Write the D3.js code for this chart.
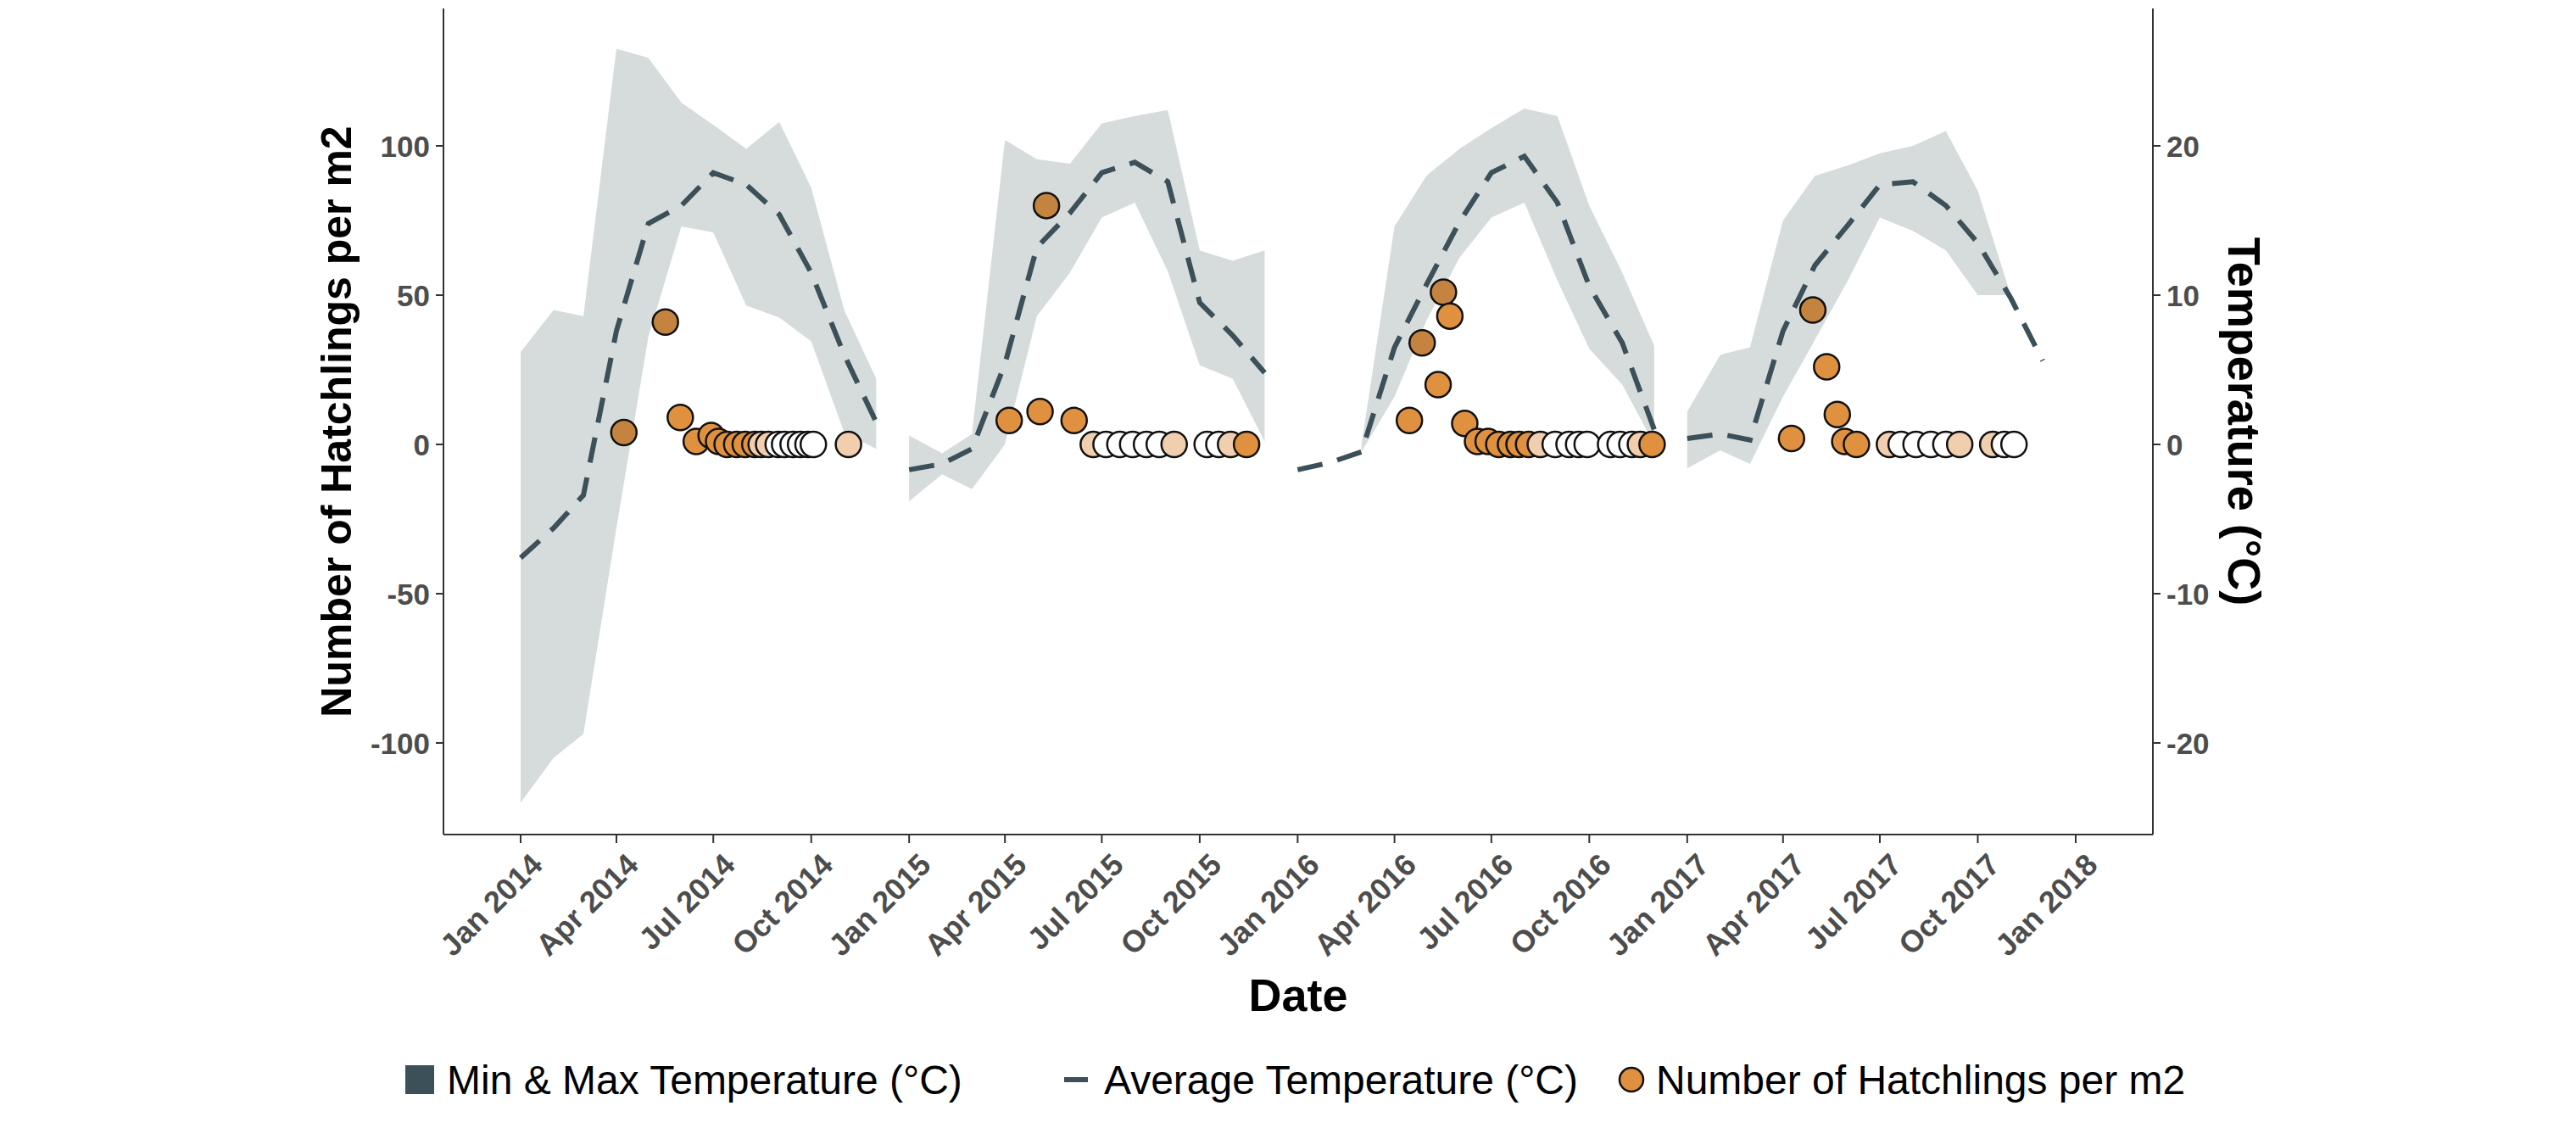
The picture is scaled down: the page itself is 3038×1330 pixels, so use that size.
<!DOCTYPE html>
<html><head><meta charset="utf-8">
<script src="https://cdn.jsdelivr.net/npm/d3@7"></script>
<style>body{margin:0;background:#fff}text{font-family:"Liberation Sans",Arial,sans-serif}</style>
</head><body><svg id="c" width="3038" height="1330"></svg>
<script>
// Monthly temperature (°C), one array per year segment
const tempMonths2014 = ["2014-01","2014-02","2014-03","2014-04","2014-05","2014-06","2014-07","2014-08","2014-09","2014-10","2014-11","2014-12"];
const tempAvg2014 = [-7.6,-5.6,-3.4,7.6,14.8,16,18.2,17.4,15.4,11.5,6,1.5];
const tempMax2014 = [6.2,9,8.6,26.5,25.9,22.9,21.4,19.8,21.6,17.2,9,4.4];
const tempMin2014 = [-24,-21,-19.4,-5.6,7.2,14.6,14.2,9.3,8.5,6.9,0.8,-0.3];
const tempMonths2015 = ["2015-01","2015-02","2015-03","2015-04","2015-05","2015-06","2015-07","2015-08","2015-09","2015-10","2015-11","2015-12"];
const tempAvg2015 = [-1.7,-1.3,-0.3,5.4,13.2,15.5,18.2,18.9,17.6,9.5,7.3,4.8];
const tempMax2015 = [0.6,-0.6,0.7,20.4,19.1,18.8,21.5,22,22.4,13,12.3,13];
const tempMin2015 = [-3.8,-2,-3,0,8.6,11.5,15.2,16.2,11.6,5.3,4.4,0.2];
const tempMonths2016 = ["2016-01","2016-02","2016-03","2016-04","2016-05","2016-06","2016-07","2016-08","2016-09","2016-10","2016-11","2016-12"];
const tempAvg2016 = [-1.7,-1.2,-0.5,6.5,10.7,14.9,18.2,19.3,16.2,10.6,6.8,1.0];
const tempMax2016 = [null,null,0,14.6,18,19.8,21.2,22.5,22,16,11.5,6.6];
const tempMin2016 = [null,null,-0.5,3.2,8.3,12.5,15.2,16.2,11,6.4,4,0];
const tempMonths2017 = ["2017-01","2017-02","2017-03","2017-04","2017-05","2017-06","2017-07","2017-08","2017-09","2017-10","2017-11","2017-12"];
const tempAvg2017 = [0.4,0.7,0.3,7.6,12,14.7,17.4,17.6,16,13.5,9.8,5.6];
const tempMax2017 = [2.2,6,6.5,15,18,18.7,19.5,20,21,17,10,null];
const tempMin2017 = [-1.6,-0.4,-1.3,3.2,7,11,15.2,14.3,13,10,10,null];

// Hatchlings per m2 (date, value, shade: o=orange, d=darker, m=mixed, w=white)
const hatchDates = ["2014-04-08","2014-05-17","2014-05-31","2014-06-15","2014-06-29","2014-07-06","2014-07-14","2014-07-23","2014-07-31","2014-08-09","2014-08-15","2014-08-22","2014-08-31","2014-09-06","2014-09-14","2014-09-21","2014-09-28","2014-10-03","2014-11-05",
"2015-04-05","2015-05-04","2015-05-10","2015-06-05","2015-06-23","2015-07-05","2015-07-18","2015-07-30","2015-08-12","2015-08-24","2015-09-07","2015-10-08","2015-10-19","2015-10-30","2015-11-14",
"2016-04-15","2016-04-27","2016-05-12","2016-05-17","2016-05-23","2016-06-06","2016-06-18","2016-06-28","2016-07-08","2016-07-19","2016-07-27","2016-08-05","2016-08-16","2016-08-30","2016-09-12","2016-09-21","2016-09-29","2016-10-21","2016-10-30","2016-11-10","2016-11-18","2016-11-29",
"2017-04-09","2017-04-29","2017-05-12","2017-05-22","2017-05-29","2017-06-09","2017-07-10","2017-07-21","2017-08-04","2017-08-18","2017-09-01","2017-09-14","2017-10-15","2017-10-26","2017-11-04"];
const hatchValues = [4,41,9,1,3,1,0,0,0,0,0,0,0,0,0,0,0,0,0,
8,11,80,8,0,0,0,0,0,0,0,0,0,0,0,
8,34,20,51,43,7,1,1,0,0,0,0,0,0,0,0,0,0,0,0,0,0,
2,45,26,10,1,0,0,0,0,0,0,0,0,0,0];
const hatchShade = ["d","d","o","o","o","o","o","o","o","o","m","m","w","w","w","w","w","w","m",
"o","o","d","o","m","w","w","w","w","w","m","w","w","m","o",
"o","d","o","d","o","o","o","o","o","o","o","o","m","w","w","w","w","w","w","w","m","o",
"o","d","o","o","o","o","m","w","w","w","w","m","m","w","w"];

const yTicksLeft = [-100,-50,0,50,100];
const yTicksRight = [-20,-10,0,10,20];
const xTicks = ["2014-01","2014-04","2014-07","2014-10","2015-01","2015-04","2015-07","2015-10","2016-01","2016-04","2016-07","2016-10","2017-01","2017-04","2017-07","2017-10","2018-01"];

const svg = d3.select("#c");
const L=523, R=2539, T=10, B=984;
const pm = d3.timeParse("%Y-%m"), pd = d3.timeParse("%Y-%m-%d");
const x = d3.scaleTime().domain([pm("2014-01"), pm("2018-01")]).range([614, 2448]);
const y = d3.scaleLinear().domain([-100,100]).range([876,172]);
const yT = d3.scaleLinear().domain([-20,20]).range([876,172]);

const segs = [[tempMonths2014,tempAvg2014,tempMax2014,tempMin2014],[tempMonths2015,tempAvg2015,tempMax2015,tempMin2015],
[tempMonths2016,tempAvg2016,tempMax2016,tempMin2016],[tempMonths2017,tempAvg2017,tempMax2017,tempMin2017]];
const area = d3.area().defined(d=>d.hi!=null).x(d=>x(d.t)).y0(d=>yT(d.lo)).y1(d=>yT(d.hi));
const line = d3.line().x(d=>x(d.t)).y(d=>yT(d.a));
segs.forEach(([m,a,hi,lo])=>{
  const data = m.map((s,i)=>({t:pm(s),a:a[i],hi:hi[i],lo:lo[i]}));
  svg.append("path").attr("d",area(data)).attr("fill","#d6dcdc");
});
segs.forEach(([m,a])=>{
  const data = m.map((s,i)=>({t:pm(s),a:a[i]}));
  svg.append("path").attr("d",line(data)).attr("fill","none").attr("stroke","#3b5058").attr("stroke-width",6).attr("stroke-dasharray","30,18");
});
const shadeCol = {o:"#e0913f",d:"#c4843f",m:"#f1cfae",w:"#ffffff"};
svg.append("g").selectAll("circle").data(hatchDates).join("circle")
  .attr("cx",(d)=>x(pd(d))).attr("cy",(d,i)=>y(hatchValues[i])).attr("r",15)
  .attr("fill",(d,i)=>shadeCol[hatchShade[i]]).attr("stroke","#111").attr("stroke-width",2.5);

// axes
const tk = "#333";
svg.append("line").attr("x1",L).attr("x2",L).attr("y1",T).attr("y2",B).attr("stroke",tk).attr("stroke-width",2);
svg.append("line").attr("x1",R).attr("x2",R).attr("y1",T).attr("y2",B).attr("stroke",tk).attr("stroke-width",2);
svg.append("line").attr("x1",L).attr("x2",R).attr("y1",B).attr("y2",B).attr("stroke",tk).attr("stroke-width",2);
yTicksLeft.forEach(v=>{
  svg.append("line").attr("x1",L-9).attr("x2",L).attr("y1",y(v)).attr("y2",y(v)).attr("stroke",tk).attr("stroke-width",2);
  svg.append("text").attr("x",L-16).attr("y",y(v)).attr("dy","0.36em").attr("text-anchor","end")
    .attr("font-weight","bold").attr("font-size",35).attr("fill","#4d4d4d").text(v);
});
yTicksRight.forEach(v=>{
  svg.append("line").attr("x1",R).attr("x2",R+9).attr("y1",yT(v)).attr("y2",yT(v)).attr("stroke",tk).attr("stroke-width",2);
  svg.append("text").attr("x",R+16).attr("y",yT(v)).attr("dy","0.36em").attr("text-anchor","start")
    .attr("font-weight","bold").attr("font-size",35).attr("fill","#4d4d4d").text(v);
});
const fmt = d3.timeFormat("%b %Y");
xTicks.forEach(s=>{
  const px = x(pm(s));
  svg.append("line").attr("x1",px).attr("x2",px).attr("y1",B).attr("y2",B+10).attr("stroke",tk).attr("stroke-width",2);
  svg.append("text").attr("transform",`translate(${px+10},${B+20}) rotate(-45)`).attr("text-anchor","end").attr("dy","0.7em")
    .attr("font-weight","bold").attr("font-size",36).attr("fill","#4d4d4d").text(fmt(pm(s)));
});
svg.append("text").attr("x",(L+R)/2).attr("y",1192).attr("text-anchor","middle").attr("font-weight","bold").attr("font-size",54).text("Date");
svg.append("text").attr("transform",`translate(414,${(T+B)/2}) rotate(-90)`).attr("text-anchor","middle").attr("font-weight","bold").attr("font-size",50).text("Number of Hatchlings per m2");
svg.append("text").attr("transform",`translate(2628,${(T+B)/2}) rotate(90)`).attr("text-anchor","middle").attr("font-weight","bold").attr("font-size",54).text("Temperature (°C)");

// legend
const ly = 1273;
svg.append("rect").attr("x",478).attr("y",ly-17).attr("width",34).attr("height",34).attr("fill","#3b5058");
svg.append("text").attr("x",527).attr("y",ly).attr("dy","0.36em").attr("font-size",48).text("Min & Max Temperature (°C)");
svg.append("line").attr("x1",1255).attr("x2",1283).attr("y1",ly).attr("y2",ly).attr("stroke","#3b5058").attr("stroke-width",6);
svg.append("text").attr("x",1302).attr("y",ly).attr("dy","0.36em").attr("font-size",48).text("Average Temperature (°C)");
svg.append("circle").attr("cx",1924).attr("cy",ly).attr("r",14).attr("fill","#e0913f").attr("stroke","#111").attr("stroke-width",2.5);
svg.append("text").attr("x",1953).attr("y",ly).attr("dy","0.36em").attr("font-size",48).text("Number of Hatchlings per m2");
</script></body></html>
